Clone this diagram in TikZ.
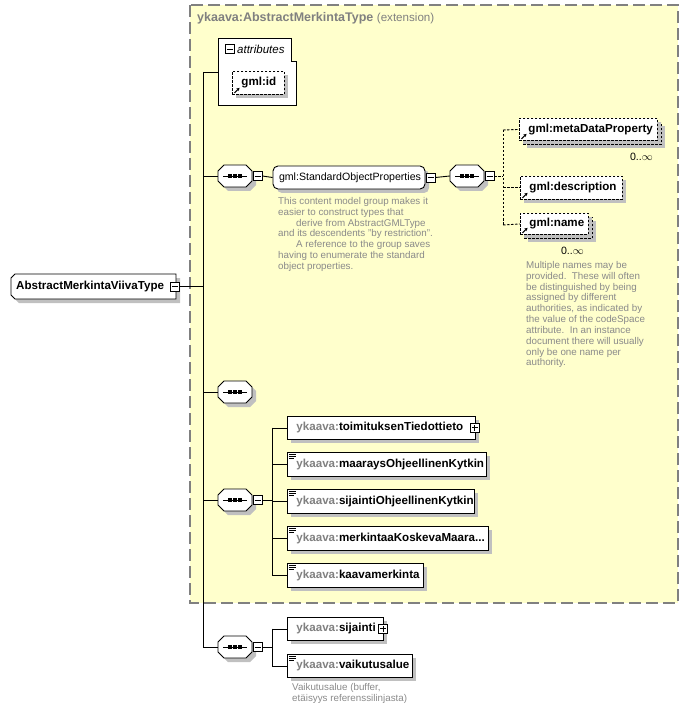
\documentclass[tikz,border=0pt]{standalone}
\usepackage{fontspec}
\setmainfont{Liberation Sans}
\usetikzlibrary{shadows,arrows.meta}
\definecolor{ylw}{HTML}{FFFFCC}
\definecolor{shdc}{HTML}{C0C0C0}
\definecolor{gtxt}{HTML}{808080}
\definecolor{dtxt}{HTML}{8A8A8A}
\newcommand\ekv[1]{\mbox{\textcolor{gtxt}{ykaava:}#1}}
\tikzset{
  shd/.style={general shadow={fill=shdc, shadow xshift=4pt, shadow yshift=-4pt}},
  efont/.style={font=\fontsize{11.6}{13}\selectfont\bfseries},
  elem/.style={draw, fill=white, rectangle, shd, anchor=north west, inner xsep=9pt,
    inner ysep=0pt, align=left, efont, line width=0.9pt},
  elemd/.style={elem, dash pattern=on 2.5pt off 1.5pt},
  backd/.style={draw, fill=white, rectangle, shd, anchor=north west, inner sep=0pt,
    dash pattern=on 2.5pt off 1.5pt, line width=0.9pt},
  anch/.style={rectangle, inner sep=0pt, minimum width=34pt, minimum height=22pt},
  pmbox/.style={draw, fill=white, rectangle, minimum size=9pt, inner sep=0pt, line width=0.8pt},
  minusbox/.style={pmbox, path picture={\draw[line width=0.8pt]
    ([xshift=-3pt]path picture bounding box.center) -- ([xshift=3pt]path picture bounding box.center);}},
  plusbox/.style={pmbox, path picture={\draw[line width=0.8pt]
    ([xshift=-3pt]path picture bounding box.center) -- ([xshift=3pt]path picture bounding box.center)
    ([yshift=-3pt]path picture bounding box.center) -- ([yshift=3pt]path picture bounding box.center);}},
  conn/.style={draw, line width=0.9pt},
  dconn/.style={draw, line width=0.9pt, dash pattern=on 2.5pt off 1.5pt},
  desc/.style={anchor=north west, align=left, text=dtxt, inner sep=0pt,
    font=\fontsize{9.8}{10.85}\selectfont},
}
% octagonal sequence compositor at (#1,#2) with named anchor node #3
\newcommand\seqnode[3]{%
  \node[anch] (#3) at (#1,#2) {};
  \begin{scope}[shift={(#1,#2)}]
    \fill[shdc] (-13,-1)--(-7,-7)--(15,-7)--(21,-1)--(21,9)--(15,15)--(-7,15)--(-13,9)--cycle;
    \draw[fill=white, line width=0.9pt] (-17,-5)--(-11,-11)--(11,-11)--(17,-5)--(17,5)--(11,11)--(-11,11)--(-17,5)--cycle;
    \draw[line width=0.9pt] (-12,0) -- (12,0);
    \foreach \dx in {-5,0,5} {\fill (\dx-1.7,-1.7) rectangle (\dx+1.7,1.7);}
  \end{scope}}
\newcommand\simpleicon[1]{%
  \draw[line width=0.8pt] ([shift={(2pt,-2.5pt)}]#1.north west) -- ++(7pt,0pt)
    ([shift={(2pt,-4.5pt)}]#1.north west) -- ++(7pt,0pt)
    ([shift={(2pt,-6.5pt)}]#1.north west) -- ++(5pt,0pt);}
\newcommand\reficon[1]{%
  \draw[line width=1pt, -{Stealth[length=3pt,width=3.5pt]}] ([shift={(2.5pt,2pt)}]#1.south west) -- ++(5pt,5pt);}
\begin{document}
\begin{tikzpicture}[x=1pt,y=-1pt]
\useasboundingbox (0,0) rectangle (689,711);
% extension box
\path[fill=ylw] (190,5) rectangle (678,603);
\draw[gtxt, line width=1.3pt, dash pattern=on 12pt off 5pt] (190,5) rectangle (678,603);
\node[anchor=west, inner sep=0pt, font=\fontsize{12.5}{14}\selectfont, text=gtxt] (title) at (197,18.5)
  {\textbf{ykaava:AbstractMerkintaType} {\fontsize{11.6}{14}\selectfont(extension)}};

% junction coordinates
\coordinate (j1) at (203,72);
\coordinate (j2) at (203,176);
\coordinate (j3) at (203,286.5);
\coordinate (j4) at (203,392);
\coordinate (j5) at (203,500);
\coordinate (j6) at (203,647);
\coordinate (attrL) at (218,72);
\coordinate (d0) at (503,176);
\coordinate (da) at (503,130);
\coordinate (db) at (503,225);
\coordinate (v4a) at (272,427.5);
\coordinate (v4b) at (272,575);
\coordinate (v4s) at (272,500);
\coordinate (v5a) at (272,628.5);
\coordinate (v5b) at (272,665.5);
\coordinate (v5s) at (272,647);

\path[conn] (j1) -- (j6);
\path[conn] (j1) -- (attrL);

% attributes box
\draw[line width=0.9pt, fill=white] (218,38) -- (291,38) -- (291,61) -- (296,61) -- (296,105) -- (218,105) -- cycle;
\node[minusbox] (attrm) at (230,49) {};
\node[anchor=west, inner sep=0pt, font=\fontsize{11.5}{13}\selectfont\itshape] (attrt) at (237,49) {attributes};
\node[elemd, minimum width=52pt, minimum height=23pt, text width=34pt] (gid) at (232,71) {gml:id};
\reficon{gid}

% main element
\fill[shdc] (19,278) -- (180,278) -- (180,303) -- (19,303) -- (15,299) -- (15,282) -- cycle;
\draw[fill=white, line width=0.9pt] (15,274) -- (176,274) -- (176,299) -- (15,299) -- (11,295) -- (11,278) -- cycle;
\node[anchor=west, inner sep=0pt, efont] (main) at (16,286.5) {AbstractMerkintaViivaType};
\node[minusbox] (mainm) at (175,286.5) {};
\path[conn] (mainm.east) -- (j3);

% sequence 1 and group
\seqnode{235}{176}{s1}
\node[minusbox] (s1m) at (257.5,176) {};
\path[conn] (j2) -- (s1.west);
\node[draw, fill=white, rounded corners=5pt, rectangle, minimum width=152pt, minimum height=23pt,
  inner xsep=6pt, inner ysep=0pt, text width=140pt, align=left, shd, line width=0.9pt,
  font=\fontsize{10.6}{12}\selectfont] (grp) at (349,177.5) {\mbox{gml:StandardObjectProperties}};
\node[minusbox] (grpm) at (430.5,177.5) {};
\path[conn] (s1m.east) -- (grp.west);
\seqnode{467}{176}{s2}
\node[minusbox] (s2m) at (489.5,176) {};
\path[conn] (grpm.east) -- (s2.west);
\node[desc] (grpd) at (278,197) {This content model group makes it\\
easier to construct types that\\
\hspace*{18pt}derive from AbstractGMLType\\
and its descendents "by restriction".\\
\hspace*{18pt}A reference to the group saves\\
having to enumerate the standard\\
object properties.};

% gml children
\node[backd, minimum width=138pt, minimum height=22pt] (mdpb) at (523,122) {};
\node[elemd, general shadow={}, minimum width=138pt, minimum height=22pt, text width=120pt] (mdp) at (519,118) {\mbox{gml:metaDataProperty}};
\reficon{mdp}
\node[anchor=east, inner sep=0pt, font=\fontsize{10.6}{12}\selectfont] (mdpc) at (653,157) {0..$\infty$};
\node[elemd, minimum width=102pt, minimum height=23pt, text width=84pt] (gdesc) at (520,176) {\mbox{gml:description}};
\reficon{gdesc}
\node[backd, minimum width=68pt, minimum height=21pt] (gnameb) at (524,217) {};
\node[elemd, general shadow={}, minimum width=68pt, minimum height=21pt, text width=50pt] (gname) at (520,213) {\mbox{gml:name}};
\reficon{gname}
\node[anchor=east, inner sep=0pt, font=\fontsize{10.6}{12}\selectfont] (gnamec) at (584,251) {0..$\infty$};
\node[desc] (gnamed) at (526,261) {Multiple names may be\\
provided.\ \ These will often\\
be distinguished by being\\
assigned by different\\
authorities, as indicated by\\
the value of the codeSpace\\
attribute.\ \ In an instance\\
document there will usually\\
only be one name per\\
authority.};
\path[dconn] (s2m.east) -- (d0);
\path[dconn] (da) -- (db);
\path[dconn] (da) -- (mdp.west);
\path[dconn] (gdesc.west -| da) -- (gdesc.west);
\path[dconn] (db) -- (gname.west);

% sequence 3 (empty)
\seqnode{235}{392}{s3}
\path[conn] (j4) -- (s3.west);

% sequence 4
\seqnode{235}{500}{s4}
\node[minusbox] (s4m) at (257.5,500) {};
\path[conn] (j5) -- (s4.west);
\path[conn] (s4m.east) -- (v4s);
\path[conn] (v4a) -- (v4b);
\node[elem, minimum width=188pt, minimum height=23pt, text width=170pt] (e1) at (287,416) {\ekv{toimituksenTiedottieto}};
\node[plusbox] (e1p) at (474.5,427.5) {};
\node[elem, minimum width=199pt, minimum height=24pt, text width=181pt] (e2) at (287,452) {\ekv{maaraysOhjeellinenKytkin}};
\simpleicon{e2}
\node[elem, minimum width=187pt, minimum height=24pt, text width=169pt] (e3) at (287,489) {\ekv{sijaintiOhjeellinenKytkin}};
\simpleicon{e3}
\node[elem, minimum width=201pt, minimum height=24pt, text width=183pt] (e4) at (287,526) {\ekv{merkintaaKoskevaMaara...}};
\simpleicon{e4}
\node[elem, minimum width=136pt, minimum height=24pt, text width=118pt] (e5) at (287,563) {\ekv{kaavamerkinta}};
\simpleicon{e5}
\foreach \e in {e1,e2,e3,e4,e5} {\path[conn] (\e.west -| v4a) -- (\e.west);}

% sequence 5
\seqnode{235}{647}{s5}
\node[minusbox] (s5m) at (257.5,647) {};
\path[conn] (j6) -- (s5.west);
\path[conn] (s5m.east) -- (v5s);
\path[conn] (v5a) -- (v5b);
\node[elem, minimum width=96pt, minimum height=23pt, text width=78pt] (f1) at (287,617) {\ekv{sijainti}};
\node[plusbox] (f1p) at (383,628.5) {};
\node[elem, minimum width=125pt, minimum height=23pt, text width=107pt] (f2) at (287,654) {\ekv{vaikutusalue}};
\simpleicon{f2}
\foreach \e in {f1,f2} {\path[conn] (\e.west -| v5a) -- (\e.west);}
\node[desc] (f2d) at (292,683) {Vaikutusalue (buffer,\\etäisyys referenssilinjasta)};
\end{tikzpicture}
\end{document}
